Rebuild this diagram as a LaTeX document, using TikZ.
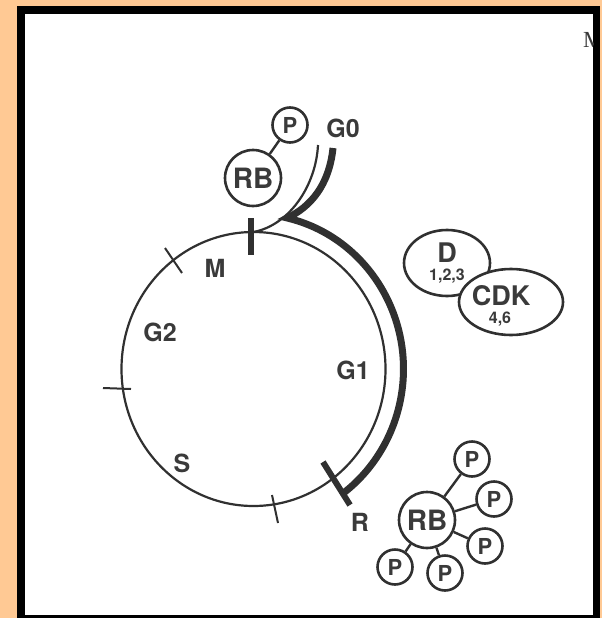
\documentclass[tikz,border=0pt]{standalone}
\usepackage{fontspec}
\setmainfont{TeX Gyre Heros}
\newfontfamily\scanserif{Liberation Serif}
\usetikzlibrary{shapes.geometric}
\definecolor{peach}{RGB}{255,201,148}
\definecolor{ink}{RGB}{48,48,48}
\definecolor{inktext}{RGB}{58,58,58}
\begin{document}
\begin{tikzpicture}[x=1pt,y=-1pt,
  ringline/.style={draw=ink, line width=2.2pt},
  bandline/.style={draw=ink, line width=7pt, line join=miter},
  bartick/.style={draw=ink, line width=6pt},
  fineTick/.style={draw=ink, line width=2pt},
  lbl/.style={inner sep=0pt, text=inktext, font=\bfseries\fontsize{25}{25}\selectfont},
  bigtxt/.style={inner sep=0pt, text=inktext, font=\bfseries\fontsize{27}{27}\selectfont},
  smalltxt/.style={inner sep=0pt, text=inktext, font=\bfseries\fontsize{16}{16}\selectfont},
  rbcirc/.style={circle, draw=ink, line width=2.6pt, fill=white, minimum size=56pt, inner sep=0pt, text=inktext, font=\bfseries\fontsize{28}{28}\selectfont},
  pcirc/.style={circle, draw=ink, line width=2.6pt, fill=white, minimum size=35pt, inner sep=0pt, text=inktext, font=\bfseries\fontsize{22}{22}\selectfont},
  ovalshape/.style={ellipse, draw=ink, line width=2.6pt, fill=white, inner sep=0pt},
  conn/.style={draw=ink, line width=2.4pt}
]
\useasboundingbox (0,0) rectangle (602,618);
\fill[peach] (0,0) rectangle (602,618);
\fill[black] (17,6) rectangle (600,618);
\fill[white] (25,14) rectangle (593,615);

% cropped letter at top right (cut by the frame, as in the scan)
\begin{scope}
\clip (25,14) rectangle (593,615);
\node[anchor=base west, inner sep=0pt, text=inktext, font=\scanserif\fontsize{23}{23}\selectfont] (cutm) at (583,48) {M};
\end{scope}

% cell cycle ring
\draw[ringline] (253.5,369) ellipse [x radius=132pt, y radius=137pt];

% G0 branch, thin line
\draw[ringline] (318,145) .. controls (316,185) and (290,225) .. (253.5,232);

% thick band from G0 to R
\draw[bandline] (333,148) .. controls (329,186) and (310,207) .. (287.2,218)
  arc[start angle=77, end angle=-54, x radius=150pt, y radius=155pt];

% ticks
\draw[bartick] (251,218) -- (251,255);
\draw[bartick] (323,462) -- (350,505);
\draw[fineTick] (165,248) -- (182,273);
\draw[fineTick] (103,388) -- (131,389);
\draw[fineTick] (272,495) -- (278,523);

% phase labels
\node[lbl] (lm) at (215,268) {M};
\node[lbl] (lg2) at (160,332) {G2};
\node[lbl] (ls) at (182,463) {S};
\node[lbl] (lg1) at (353,370) {G1};
\node[lbl] (lr) at (360,522) {R};
\node[lbl] (lg0) at (343,128) {G0};

% top RB with one P
\node[rbcirc] (rbt) at (253,178) {RB};
\node[pcirc] (pt) at (290,125) {P};
\draw[conn] (rbt) -- (pt);

% D / CDK
\node[ovalshape, minimum width=86pt, minimum height=66pt] (dov) at (447,263) {};
\node[ovalshape, minimum width=104pt, minimum height=66pt] (cdkov) at (511,302) {};
\node[bigtxt, anchor=base] (dtxt) at (447,262) {D};
\node[smalltxt, anchor=base] (dnum) at (447,280) {1,2,3};
\node[bigtxt, anchor=base] (cdktxt) at (501,305) {CDK};
\node[smalltxt, anchor=base] (cdknum) at (500,323) {4,6};

% bottom RB with five P
\node[rbcirc] (rbb) at (427,520) {RB};
\node[pcirc] (pa) at (472,459) {P};
\node[pcirc] (pb) at (494,499) {P};
\node[pcirc] (pc) at (485,546) {P};
\node[pcirc] (pd) at (445,573) {P};
\node[pcirc] (pe) at (395,567) {P};
\draw[conn] (rbb) -- (pa);
\draw[conn] (rbb) -- (pb);
\draw[conn] (rbb) -- (pc);
\draw[conn] (rbb) -- (pd);
\draw[conn] (rbb) -- (pe);
\end{tikzpicture}
\end{document}
